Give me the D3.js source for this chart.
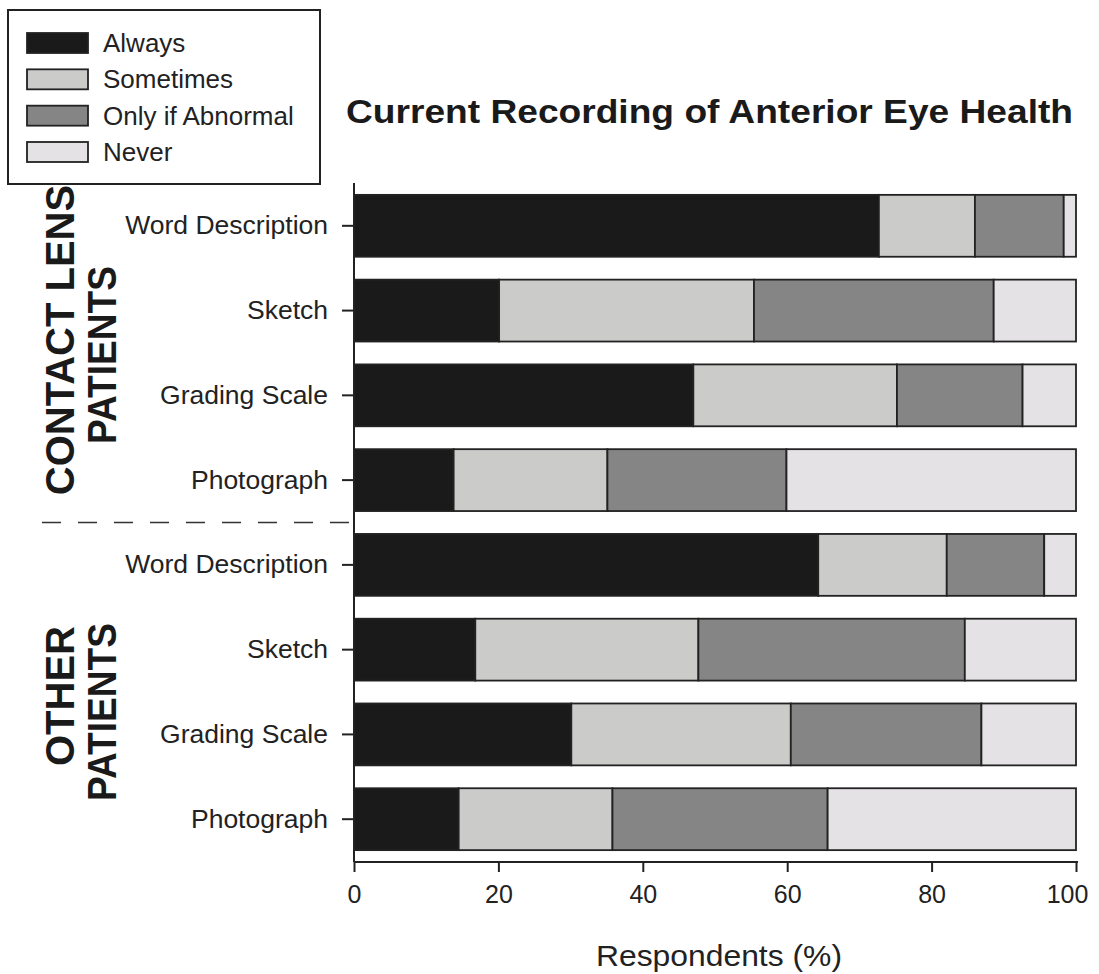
<!DOCTYPE html>
<html>
<head>
<meta charset="utf-8">
<script src="https://cdn.jsdelivr.net/npm/d3@7"></script>
<style>
  body { margin: 0; background: #fff; }
  svg { display: block; font-family: "Liberation Sans", Arial, sans-serif; }
</style>
</head>
<body>
<svg id="chart" width="1099" height="974"></svg>
<script>
// ---- data ----
const categories = ["Word Description", "Sketch", "Grading Scale", "Photograph",
                    "Word Description", "Sketch", "Grading Scale", "Photograph"];
const groupNames = [["CONTACT LENS", "PATIENTS"], ["OTHER", "PATIENTS"]];
const responses = ["Always", "Sometimes", "Only if Abnormal", "Never"];
const always    = [72.7, 20.1, 47.0, 13.8, 64.3, 16.8, 30.1, 14.5];
const sometimes = [13.3, 35.3, 28.2, 21.3, 17.8, 30.9, 30.4, 21.3];
const abnormal  = [12.3, 33.2, 17.4, 24.8, 13.5, 36.9, 26.4, 29.8];
const never     = [ 1.7, 11.4,  7.4, 40.1,  4.4, 15.4, 13.1, 34.4];
const xTicks = [0, 20, 40, 60, 80, 100];
const title = "Current Recording of Anterior Eye Health";
const xTitle = "Respondents (%)";
const colors = ["#1a1a1a", "#cbcbca", "#848584", "#e4e2e4"];

// ---- build table ----
const rows = categories.map((c, i) => ({
  idx: i, cat: c,
  "Always": always[i], "Sometimes": sometimes[i],
  "Only if Abnormal": abnormal[i], "Never": never[i]
}));
const stacked = d3.stack().keys(responses)(rows);

const svg = d3.select("#chart");
const x = d3.scaleLinear().domain([0, 100]).range([354, 1076]);
const y = d3.scaleBand().domain(d3.range(categories.length))
  .range([183, 862]).paddingInner(0.27).paddingOuter(0.14);
const color = d3.scaleOrdinal().domain(responses).range(colors);

// bars
svg.append("g").selectAll("g").data(stacked).join("g")
  .attr("fill", d => color(d.key))
  .selectAll("rect").data(d => d).join("rect")
  .attr("x", d => x(d[0]))
  .attr("y", d => y(d.data.idx))
  .attr("width", d => x(d[1]) - x(d[0]))
  .attr("height", y.bandwidth())
  .attr("stroke", "#222")
  .attr("stroke-width", 1.8);

// y axis
const yAxis = d3.axisLeft(y).tickSize(12).tickFormat(i => categories[i]).tickPadding(14);
const gy = svg.append("g").attr("transform", "translate(354,0)").call(yAxis);
gy.select(".domain").attr("d", "M0,183V862").attr("stroke", "#222").attr("stroke-width", 2);
gy.selectAll(".tick line").attr("stroke", "#222").attr("stroke-width", 2);
gy.selectAll(".tick text").attr("font-size", 26.5).attr("fill", "#222")
  .attr("font-family", "'Liberation Sans', Arial, sans-serif");

// x axis
const xAxis = d3.axisBottom(x).tickValues(xTicks).tickSize(10).tickPadding(13);
const gx = svg.append("g").attr("transform", "translate(0,862)").call(xAxis);
gx.select(".domain").attr("d", "M354,0H1078").attr("stroke", "#222").attr("stroke-width", 2);
gx.selectAll(".tick line").attr("stroke", "#222").attr("stroke-width", 2);
gx.selectAll(".tick text").attr("font-size", 25).attr("fill", "#222")
  .attr("font-family", "'Liberation Sans', Arial, sans-serif")
  .attr("dx", d => d === 100 ? -9 : 0);

// x title
svg.append("text").attr("x", 719).attr("y", 966).attr("text-anchor", "middle")
  .attr("font-size", 30).attr("fill", "#222")
  .attr("textLength", 246).attr("lengthAdjust", "spacingAndGlyphs")
  .text(xTitle);

// title
svg.append("text").attr("x", 346).attr("y", 123)
  .attr("font-size", 33).attr("font-weight", "bold").attr("fill", "#1a1a1a")
  .attr("textLength", 727).attr("lengthAdjust", "spacingAndGlyphs")
  .text(title);

// dashed separator between groups
const sepY = (y(3) + y.bandwidth() + y(4)) / 2;
svg.append("line").attr("x1", 42).attr("x2", 353).attr("y1", sepY).attr("y2", sepY)
  .attr("stroke", "#333").attr("stroke-width", 1.6).attr("stroke-dasharray", "19,17");

// group labels
const groupCenters = [[340, 355], [696, 712]];
const lineX = [74, 116];
groupNames.forEach((lines, gi) => {
  lines.forEach((t, li) => {
    const txt = svg.append("text")
      .attr("transform", `translate(${lineX[li]},${groupCenters[gi][li]}) rotate(-90)`)
      .attr("text-anchor", "middle")
      .attr("font-size", 40).attr("font-weight", "bold").attr("fill", "#1a1a1a")
      .text(t);
    if (t === "PATIENTS") txt.attr("textLength", 178).attr("lengthAdjust", "spacingAndGlyphs");
  });
});

// legend
const lg = svg.append("g");
lg.append("rect").attr("x", 8).attr("y", 10).attr("width", 312).attr("height", 174)
  .attr("fill", "#fff").attr("stroke", "#222").attr("stroke-width", 2);
const ly = d3.scalePoint().domain(responses).range([43, 152]);
const items = lg.selectAll("g.item").data(responses).join("g").attr("class", "item");
items.append("rect").attr("x", 27).attr("y", d => ly(d) - 10)
  .attr("width", 61).attr("height", 20)
  .attr("fill", d => color(d)).attr("stroke", "#222").attr("stroke-width", 1.8);
items.append("text").attr("x", 103).attr("y", d => ly(d) + 9)
  .attr("font-size", 26).attr("fill", "#222").text(d => d);
</script>
</body>
</html>
